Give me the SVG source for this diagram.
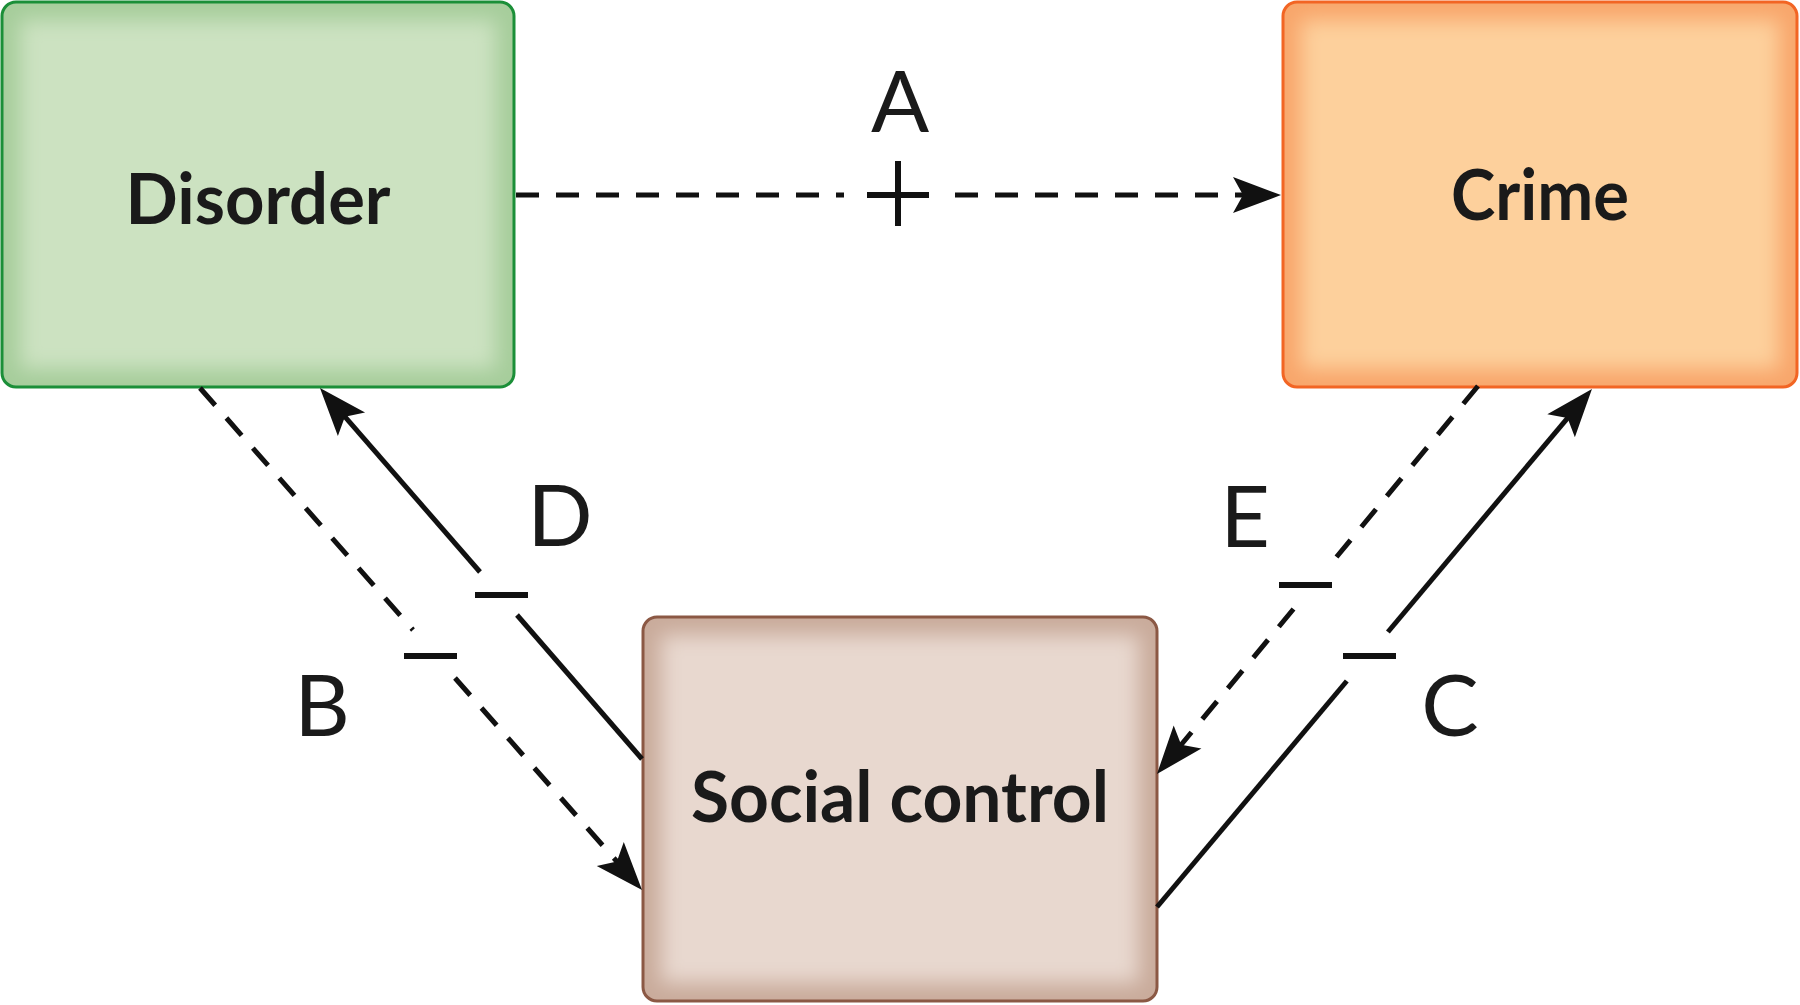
<svg xmlns="http://www.w3.org/2000/svg" width="1800" height="1005" viewBox="0 0 1800 1005">
  <style>
    .node-text { font-family: Lato, "Open Sans", "Liberation Sans", sans-serif; font-weight: 700; font-size: 70px; fill: #1a1a1a; text-anchor: middle; }
    .label { font-family: Lato, "Open Sans", "Liberation Sans", sans-serif; font-weight: 400; font-size: 86px; fill: #1a1a1a; text-anchor: middle; }
    .solid { stroke: #111; stroke-width: 5; fill: none; }
    .dashed { stroke: #111; stroke-width: 5; fill: none; stroke-dasharray: 23 17; }
    .sign { stroke: #111; stroke-width: 6; fill: none; }
  </style>
  <defs>
    <filter id="soft" x="-20%" y="-20%" width="140%" height="140%">
      <feGaussianBlur stdDeviation="10"/>
    </filter>
    <marker id="arrow" markerUnits="userSpaceOnUse" orient="auto" refX="0" refY="0" markerWidth="80" markerHeight="80" overflow="visible">
      <path d="M20,0 L-28,-18 L-18,0 L-28,18 Z" fill="#111"/>
    </marker>
    <clipPath id="cpDisorder"><rect x="2" y="2" width="512" height="385" rx="14"/></clipPath>
    <clipPath id="cpCrime"><rect x="1283" y="2" width="514" height="385" rx="14"/></clipPath>
    <clipPath id="cpSocial"><rect x="643" y="617" width="514" height="384" rx="14"/></clipPath>
  </defs>

  <g id="node-disorder">
    <g clip-path="url(#cpDisorder)">
      <rect x="2" y="2" width="512" height="385" fill="#a6cd9b"/>
      <rect x="20" y="20" width="476" height="349" fill="#cce2c1" filter="url(#soft)"/>
    </g>
    <rect x="2" y="2" width="512" height="385" rx="14" fill="none" stroke="#1b8f38" stroke-width="3"/>
    <text class="node-text" x="258" y="224" textLength="265" lengthAdjust="spacingAndGlyphs">Disorder</text>
  </g>

  <g id="node-crime">
    <g clip-path="url(#cpCrime)">
      <rect x="1283" y="2" width="514" height="385" fill="#f8a66b"/>
      <rect x="1301" y="20" width="478" height="349" fill="#fdd09c" filter="url(#soft)"/>
    </g>
    <rect x="1283" y="2" width="514" height="385" rx="14" fill="none" stroke="#f26524" stroke-width="3"/>
    <text class="node-text" x="1540" y="220" textLength="178" lengthAdjust="spacingAndGlyphs">Crime</text>
  </g>

  <g id="node-social-control">
    <g clip-path="url(#cpSocial)">
      <rect x="643" y="617" width="514" height="384" fill="#c9ab9b"/>
      <rect x="661" y="635" width="478" height="348" fill="#e8d8cf" filter="url(#soft)"/>
    </g>
    <rect x="643" y="617" width="514" height="384" rx="14" fill="none" stroke="#8b5844" stroke-width="3"/>
    <text class="node-text" x="900" y="822" textLength="418" lengthAdjust="spacingAndGlyphs">Social control</text>
  </g>

  <g id="connectors">
    <!-- A: Disorder to Crime (dashed, +) -->
    <line class="dashed" x1="516" y1="195" x2="844" y2="195"/>
    <line class="dashed" x1="955" y1="195" x2="1261" y2="195" marker-end="url(#arrow)"/>
    <!-- B: Disorder to Social control (dashed, -) -->
    <line class="dashed" x1="200" y1="388" x2="413" y2="630"/>
    <line class="dashed" x1="455" y1="678" x2="628.8" y2="875" marker-end="url(#arrow)"/>
    <!-- D: Social control to Disorder (solid, -) -->
    <line class="solid" x1="642" y1="759" x2="517" y2="615"/>
    <line class="solid" x1="480" y1="572" x2="333.1" y2="403.1" marker-end="url(#arrow)"/>
    <!-- E: Crime to Social control (dashed, -) -->
    <line class="dashed" x1="1478" y1="386" x2="1336.5" y2="557"/>
    <line class="dashed" x1="1293.5" y1="609" x2="1169.7" y2="758.6" marker-end="url(#arrow)"/>
    <!-- C: Social control to Crime (solid, -) -->
    <line class="solid" x1="1157" y1="907" x2="1346.8" y2="681"/>
    <line class="solid" x1="1387.9" y1="632" x2="1579.1" y2="404.3" marker-end="url(#arrow)"/>
  </g>

  <g id="labels">
    <text class="label" x="900" y="132">A</text>
    <line class="sign" x1="867" y1="195" x2="929" y2="195"/>
    <line class="sign" x1="898" y1="161" x2="898" y2="226"/>

    <text class="label" x="560" y="546">D</text>
    <line class="sign" x1="475" y1="595" x2="528" y2="595"/>

    <text class="label" x="322" y="736">B</text>
    <line class="sign" x1="404" y1="656" x2="457" y2="656"/>

    <text class="label" x="1245" y="547">E</text>
    <line class="sign" x1="1279" y1="585" x2="1332" y2="585"/>

    <text class="label" x="1450" y="736">C</text>
    <line class="sign" x1="1343" y1="656" x2="1396" y2="656"/>
  </g>
</svg>
